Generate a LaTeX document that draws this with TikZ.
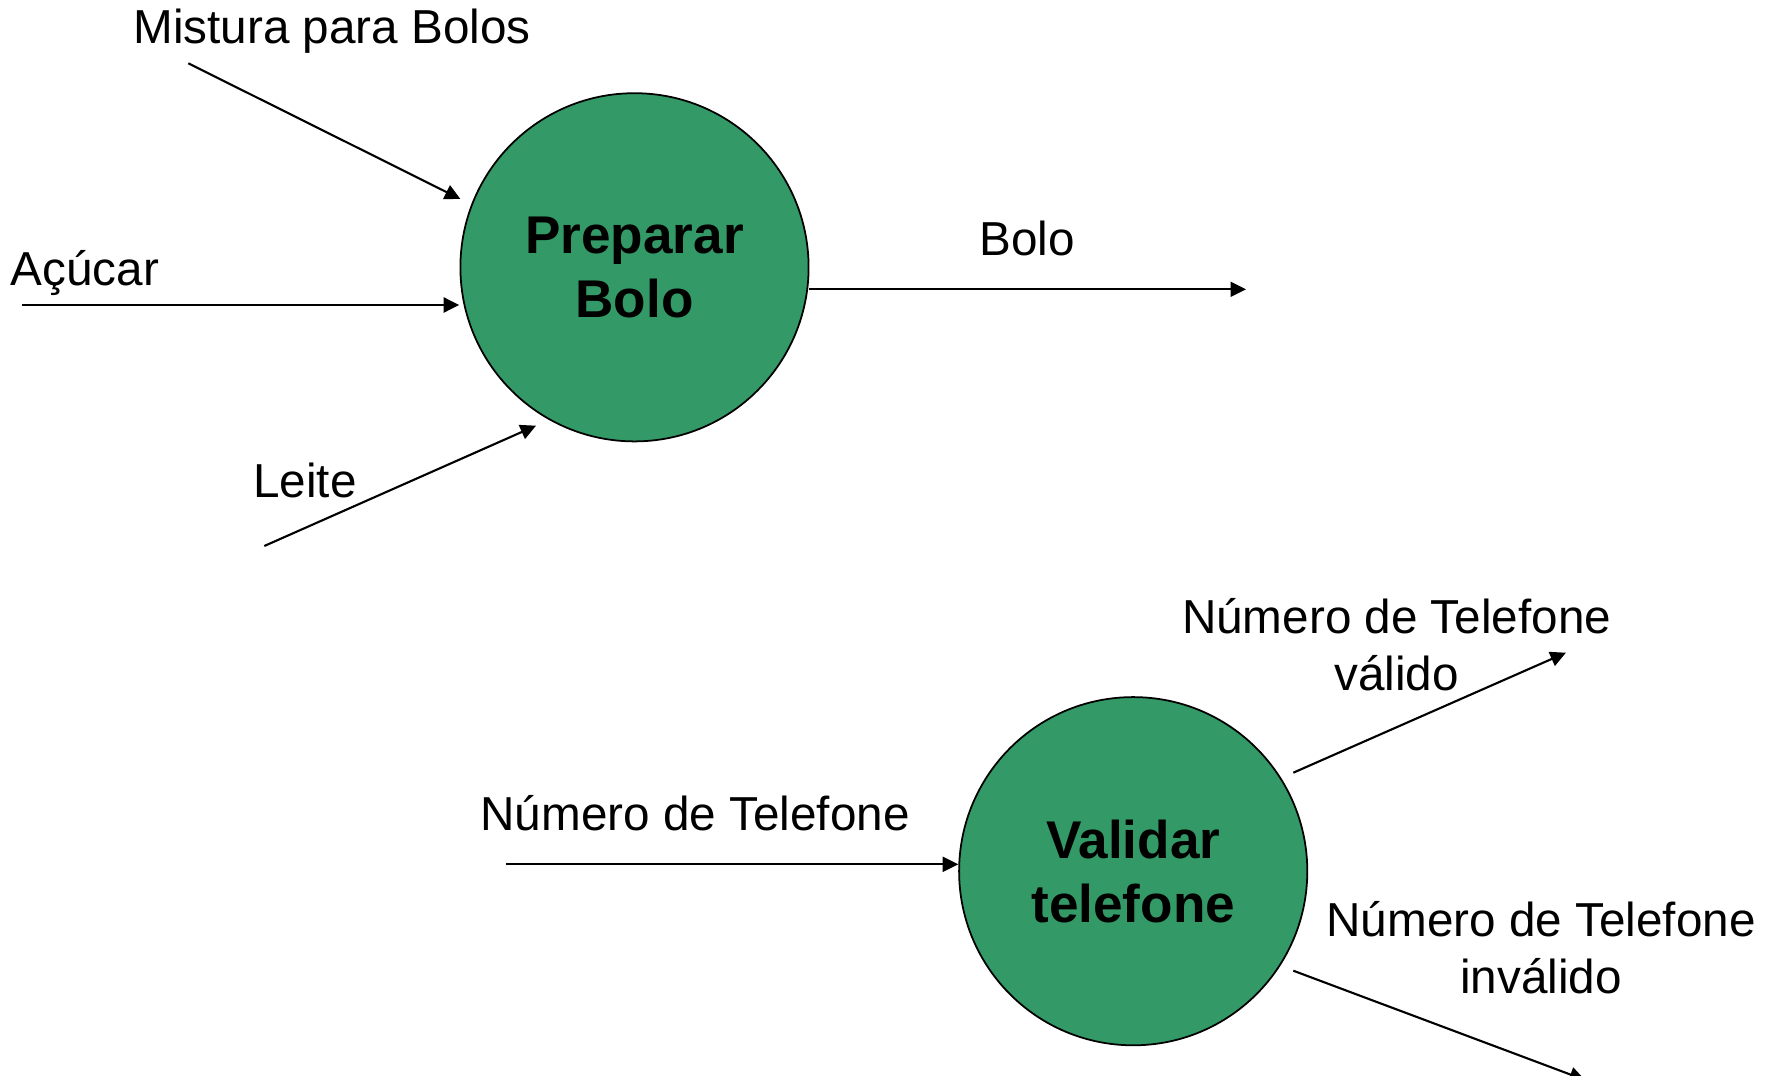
\documentclass[tikz,border=0pt]{standalone}
\usepackage{fontspec}
\setmainfont{Liberation Sans}
\usetikzlibrary{arrows.meta}
\definecolor{procgreen}{HTML}{339966}
\begin{document}
\begin{tikzpicture}[x=0.01cm,y=-0.01cm,
  proc/.style={circle,draw=black,line width=0.5pt,fill=procgreen,minimum size=3.48cm,inner sep=0pt,
    font=\fontsize{15.1}{18.2}\selectfont\bfseries,align=center},
  lbl/.style={font=\fontsize{13.55}{16.1}\selectfont,align=center,inner sep=0pt,anchor=base},
  flow/.style={line width=0.6pt,-{Triangle[length=0.155cm,width=0.15cm]}}]
\useasboundingbox (0,0) rectangle (1773,1076);
\node[proc] (c1) at (634.5,267.3) {Preparar\\Bolo};
\node[proc] (c2) at (1133.2,871.2) {Validar\\telefone};
\node[lbl] (lmist) at (332,44) {Mistura para Bolos};
\node[lbl] (lacu) at (85,285) {Açúcar};
\node[lbl] (lleite) at (305,497.7) {Leite};
\node[lbl] (lbolo) at (1027,255) {Bolo};
\node[lbl] (lnum) at (695,830) {Número de Telefone};
\node[lbl] (lval) at (1396.6,690) {Número de Telefone\\válido};
\node[lbl] (linv) at (1541,993.3) {Número de Telefone\\inválido};
\coordinate (m0) at (188.3,63.3);  \coordinate (m1) at (460.4,199);
\coordinate (a0) at (21.8,305);    \coordinate (a1) at (459.2,305);
\coordinate (l0) at (264.3,546);   \coordinate (l1) at (536,425.7);
\coordinate (b1) at (1246,289.3);
\coordinate (n0) at (506,864.3);
\coordinate (v0) at (1293.3,772.7); \coordinate (v1) at (1565.9,652.7);
\coordinate (i0) at (1293.3,970.7); \coordinate (i1) at (1585,1080);
\draw[flow] (m0) -- (m1);
\draw[flow] (a0) -- (a1);
\draw[flow] (l0) -- (l1);
\draw[flow] (c1.east |- b1) -- (b1);
\draw[flow] (n0) -- (n0 -| c2.west);
\draw[flow] (v0) -- (v1);
\draw[flow] (i0) -- (i1);
\end{tikzpicture}
\end{document}
